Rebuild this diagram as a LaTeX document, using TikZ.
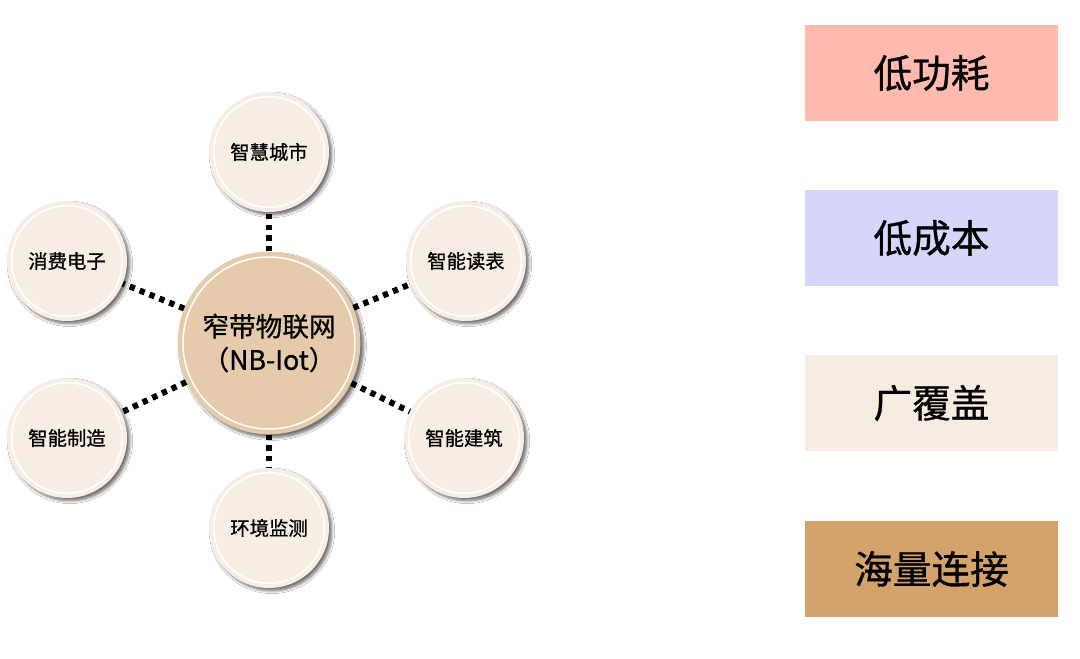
\documentclass[tikz,border=0pt]{standalone}
\usepackage{fontspec}
\setmainfont{Noto Sans CJK SC}[FakeBold=0.9]
\usetikzlibrary{shadows.blur}
\definecolor{smallfill}{HTML}{F7EDE3}
\definecolor{centerfill}{HTML}{E5CBAB}
\definecolor{pinkbox}{HTML}{FFBAB0}
\definecolor{bluebox}{HTML}{D6D6FA}
\definecolor{beigebox}{HTML}{F7ECE1}
\definecolor{brownbox}{HTML}{D4A36B}
\tikzset{
  px/.style={x=0.75pt,y=-0.75pt},
  smallc/.style={circle, fill=smallfill, minimum size=90pt, inner sep=0pt,
    font=\fontsize{14.5pt}{17pt}\selectfont,
    blur shadow={shadow xshift=2.2pt, shadow yshift=-2.2pt, shadow blur radius=2pt, shadow blur steps=6, shadow opacity=55}},
  bigc/.style={circle, fill=centerfill, minimum size=137pt, inner sep=0pt, align=center,
    font=\fontsize{20pt}{25pt}\selectfont,
    blur shadow={shadow xshift=2.5pt, shadow yshift=-2.5pt, shadow blur radius=2pt, shadow blur steps=6, shadow opacity=55}},
  ring/.style={white, line width=1.1pt},
  featbox/.style={rectangle, minimum width=190pt, minimum height=72pt, inner sep=0pt,
    font=\fontsize{29pt}{33pt}\selectfont},
  dotline/.style={line width=4.5pt, dash pattern=on 4pt off 4pt}
}
\begin{document}
\begin{tikzpicture}[px]
\useasboundingbox (0,0) rectangle (1080,659);
\fill[white] (0,0) rectangle (1080,659);
% centre
\node[bigc] (hub) at (269,343) {窄带物联网\\（NB-Iot）};
\node[smallc] (s1) at (269,152) {智慧城市};
\node[smallc] (s2) at (67,261) {消费电子};
\node[smallc] (s3) at (466,261) {智能读表};
\node[smallc] (s4) at (67,438) {智能制造};
\node[smallc] (s5) at (464,438) {智能建筑};
\node[smallc] (s6) at (269,528) {环境监测};
\foreach \n in {s1,s2,s3,s4,s5,s6}{
  \draw[ring] (\n.center) circle (41.5pt);
  \draw[dotline] (hub) -- (\n);
}
\draw[ring] (hub.center) circle (64.5pt);
% feature boxes
\node[featbox, fill=pinkbox]  (f1) at (931.5,73)  {低功耗};
\node[featbox, fill=bluebox]  (f2) at (931.5,238) {低成本};
\node[featbox, fill=beigebox] (f3) at (931.5,403) {广覆盖};
\node[featbox, fill=brownbox] (f4) at (931.5,569) {海量连接};
\end{tikzpicture}
\end{document}
